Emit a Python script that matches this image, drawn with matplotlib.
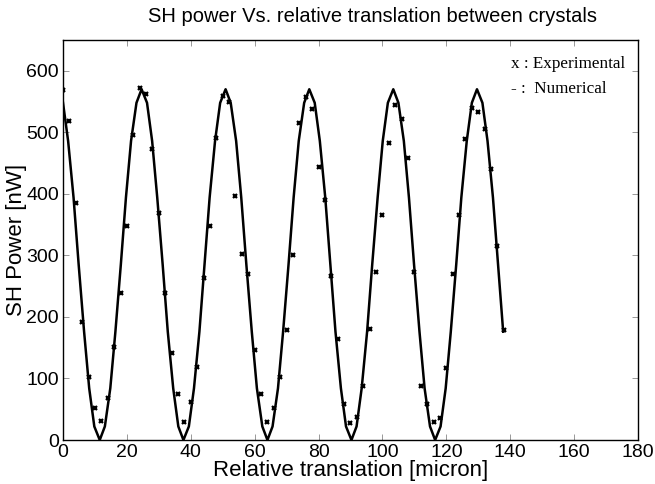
import numpy as np
import matplotlib
matplotlib.use("Agg")
import matplotlib.pyplot as plt

# Experimental points (x every 2 micron)
exp_x = [0, 2, 4, 6, 8, 10, 12, 14, 16, 18, 20, 22, 24, 26, 28, 30, 32, 34,
         36, 38, 40, 42, 44, 46, 48, 50, 52, 54, 56, 58, 60, 62, 64, 66, 68,
         70, 72, 74, 76, 78, 80, 82, 84, 86, 88, 90, 92, 94, 96, 98, 100, 102,
         104, 106, 108, 110, 112, 114, 116, 118, 120, 122, 124, 126, 128, 130,
         132, 134, 136, 138]
exp_p = [568, 518, 385, 191, 102, 52, 31, 69, 151, 239, 347, 495, 572, 563,
         473, 369, 239, 141, 75, 29, 61, 118, 263, 348, 491, 559, 550, 396,
         303, 270, 146, 74, 30, 52, 103, 179, 300, 515, 557, 538, 443, 390,
         267, 164, 58, 27, 38, 88, 181, 273, 365, 482, 544, 522, 458, 273,
         88, 58, 29, 36, 117, 269, 366, 489, 540, 533, 505, 440, 316, 178]

# Numerical curve vertices
num_x = [0.0, 1.6, 3.3, 4.9, 6.6, 8.2, 9.8, 11.5, 13.1, 14.8, 16.4, 18.1,
         19.7, 21.3, 23.0, 24.6, 26.3, 27.9, 29.5, 31.2, 32.8, 34.5, 36.1,
         37.7, 39.4, 41.0, 42.7, 44.3, 45.9, 47.6, 49.2, 50.9, 52.5, 54.2,
         55.8, 57.4, 59.1, 60.7, 62.4, 64.0, 65.6, 67.3, 68.9, 70.6, 72.2,
         73.8, 75.5, 77.1, 78.8, 80.4, 82.1, 83.7, 85.3, 87.0, 88.6, 90.3,
         91.9, 93.5, 95.2, 96.8, 98.5, 100.1, 101.7, 103.4, 105.0, 106.7,
         108.3, 109.9, 111.6, 113.2, 114.9, 116.5, 118.2, 119.8, 121.4, 123.1,
         124.7, 126.4, 128.0, 129.6, 131.3, 132.9, 134.6, 136.2, 137.8]
num_p = [548, 486, 394, 285, 176, 84, 22, 0, 22, 84, 176, 285, 394, 486, 548,
         570, 548, 486, 394, 285, 176, 84, 22, 0, 22, 84, 176, 285, 394, 486,
         548, 570, 548, 486, 394, 285, 176, 84, 22, 0, 22, 84, 176, 285, 394,
         486, 548, 570, 548, 486, 394, 285, 176, 84, 22, 0, 22, 84, 176, 285,
         394, 486, 548, 570, 548, 486, 394, 285, 176, 84, 22, 0, 22, 84, 176,
         285, 394, 486, 548, 570, 548, 486, 394, 285, 176]

x_ticks = [0, 20, 40, 60, 80, 100, 120, 140, 160, 180]
y_ticks = [0, 100, 200, 300, 400, 500, 600]

plt.rcParams['font.family'] = ['Liberation Sans', 'DejaVu Sans']

fig = plt.figure(figsize=(6.55, 4.84), dpi=100)
ax = fig.add_axes([0.0962, 0.0909, 0.8778, 0.8264])

ax.plot(num_x, num_p, color="black", lw=1.8)
ax.plot(exp_x, exp_p, ls="none", marker="x", color="black", ms=3.5, mew=1.6)

ax.set_xlim(0, 180)
ax.set_ylim(0, 650)
ax.set_xticks(x_ticks)
ax.set_yticks(y_ticks)
ax.tick_params(direction="in", length=4, width=0.6, color="#888888",
               top=True, right=True, labelsize=14)
ax.tick_params(axis="x", pad=3)
ax.tick_params(axis="y", pad=3)
for s in ax.spines.values():
    s.set_linewidth(1.0)

ax.set_xlabel("Relative translation [micron]", fontsize=16, labelpad=-1)
ax.set_ylabel("SH Power [nW]", fontsize=16, labelpad=-1)
fig.suptitle("SH power Vs. relative translation between crystals",
             fontsize=14.5, y=0.985, x=0.568)

ax.text(0.78, 0.94, "x : Experimental", transform=ax.transAxes,
        family="Liberation Serif", fontsize=12.3, va="center", ha="left")
ax.text(0.78, 0.877, "- :  Numerical", transform=ax.transAxes,
        family="Liberation Serif", fontsize=12.3, va="center", ha="left")

fig.savefig("out.png", dpi=100)
